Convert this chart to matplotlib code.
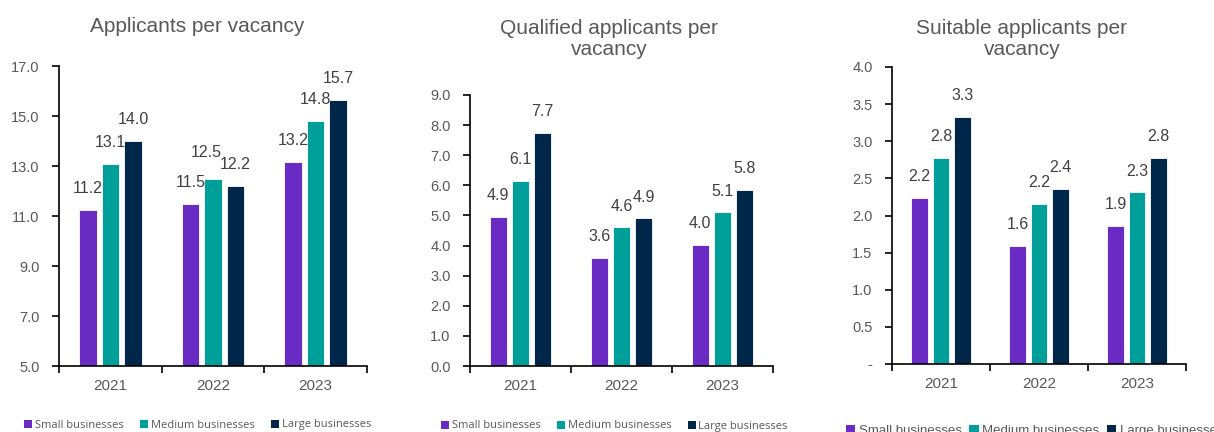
import numpy as np
import matplotlib
matplotlib.use("Agg")
import matplotlib.pyplot as plt
from matplotlib.patches import Patch

plt.rcParams['font.family'] = ['Liberation Sans', 'DejaVu Sans']

# data
years = ["2021", "2022", "2023"]
sizes = ["Small businesses", "Medium businesses", "Large businesses"]

applicants_small = [11.25, 11.48, 13.18]
applicants_medium = [13.10, 12.48, 14.80]
applicants_large = [14.02, 12.22, 15.66]

qualified_small = [4.94, 3.60, 4.02]
qualified_medium = [6.14, 4.60, 5.10]
qualified_large = [7.73, 4.90, 5.84]

suitable_small = [2.24, 1.59, 1.86]
suitable_medium = [2.78, 2.16, 2.31]
suitable_large = [3.33, 2.36, 2.77]

colors = ["#6A2BC4", "#009F99", "#002649"]
grey = "#595959"
label_grey = "#404040"

fig = plt.figure(figsize=(12.14, 4.32), dpi=100)

W, H = 1214, 432


def px_axes(left, top, right, bottom):
    return fig.add_axes([left / W, 1 - bottom / H, (right - left) / W, (bottom - top) / H])


def draw_panel(ax, series, ymin, ymax, step, zero_dash=False, nudge=None):
    nudge = nudge or {}
    x = np.arange(len(years))
    pitch = 0.22
    width = 0.172
    for i, (vals, col) in enumerate(zip(series, colors)):
        pos = x + (i - 1) * pitch
        ax.bar(pos, vals, width, color=col, edgecolor="white", linewidth=0.6, zorder=2)
        for j, (xb, v) in enumerate(zip(pos, vals)):
            dx, dy = nudge.get((i, j), (0, 0))
            ax.annotate(f"{v:.1f}", (xb, v), xytext=(dx, 10 + dy), textcoords="offset points",
                        ha="center", va="bottom", fontsize=11.5, color=label_grey)
    ax.set_ylim(ymin, ymax)
    ax.set_xlim(-0.5, 2.5)
    ticks = np.arange(ymin, ymax + step / 2, step)
    ax.set_yticks(ticks)
    labels = [f"{t:.1f}" for t in ticks]
    if zero_dash:
        labels[0] = "-"
    ax.set_yticklabels(labels)
    # year labels in the middle, tick marks at the group edges
    ax.set_xticks([-0.5, 0.5, 1.5, 2.5])
    ax.set_xticklabels([])
    ax.set_xticks(x, minor=True)
    ax.set_xticklabels(years, minor=True)
    ax.tick_params(axis="x", which="major", length=5, width=1.2, direction="out")
    ax.tick_params(axis="x", which="minor", length=0, pad=9, labelsize=11, labelcolor=grey)
    ax.tick_params(axis="y", length=5, width=1.2, direction="out", labelsize=10.5,
                   labelcolor=grey, pad=9)
    for s in ["top", "right"]:
        ax.spines[s].set_visible(False)
    for s in ["left", "bottom"]:
        ax.spines[s].set_linewidth(1.2)
        ax.spines[s].set_color("black")
    ax.patch.set_visible(False)


ax1 = px_axes(59, 66, 367, 366)
# 12.5 label pushed up-left so it clears 12.2
draw_panel(ax1, [applicants_small, applicants_medium, applicants_large], 5, 17, 2,
           nudge={(1, 1): (-5, 4)})
ax2 = px_axes(470, 95, 773, 366)
draw_panel(ax2, [qualified_small, qualified_medium, qualified_large], 0, 9, 1)
ax3 = px_axes(892, 67, 1186, 364)
draw_panel(ax3, [suitable_small, suitable_medium, suitable_large], 0, 4, 0.5, zero_dash=True)

# titles
fig.text(197 / W, 1 - 26 / H, "Applicants per vacancy", ha="center", va="center",
         fontsize=15, color=grey)
fig.text(609 / W, 1 - 39 / H, "Qualified applicants per\nvacancy", ha="center",
         va="center", fontsize=15, color=grey, linespacing=1.1)
fig.text(1022 / W, 1 - 39 / H, "Suitable applicants per\nvacancy", ha="center",
         va="center", fontsize=15, color=grey, linespacing=1.1)

# legends
handles = [Patch(facecolor=c, edgecolor="none") for c in colors]
leg_opts = dict(ncol=3, frameon=False, handlelength=0.7, handleheight=0.7,
                handletextpad=0.25, borderaxespad=0, borderpad=0)
fig.legend(handles, sizes, loc="center left", bbox_to_anchor=(24 / W, 1 - 425 / H),
           prop={"family": "Open Sans", "size": 8}, labelcolor=grey,
           columnspacing=1.5, **leg_opts)
fig.legend(handles, sizes, loc="center left", bbox_to_anchor=(441 / W, 1 - 426 / H),
           prop={"family": "Open Sans", "size": 8}, labelcolor=grey,
           columnspacing=1.5, **leg_opts)
fig.legend(handles, sizes, loc="center left", bbox_to_anchor=(846 / W, 1 - 431 / H),
           prop={"family": "Liberation Sans", "size": 9.5}, labelcolor=grey,
           columnspacing=0.6, **leg_opts)

fig.savefig("out.png", dpi=100, facecolor="white")
